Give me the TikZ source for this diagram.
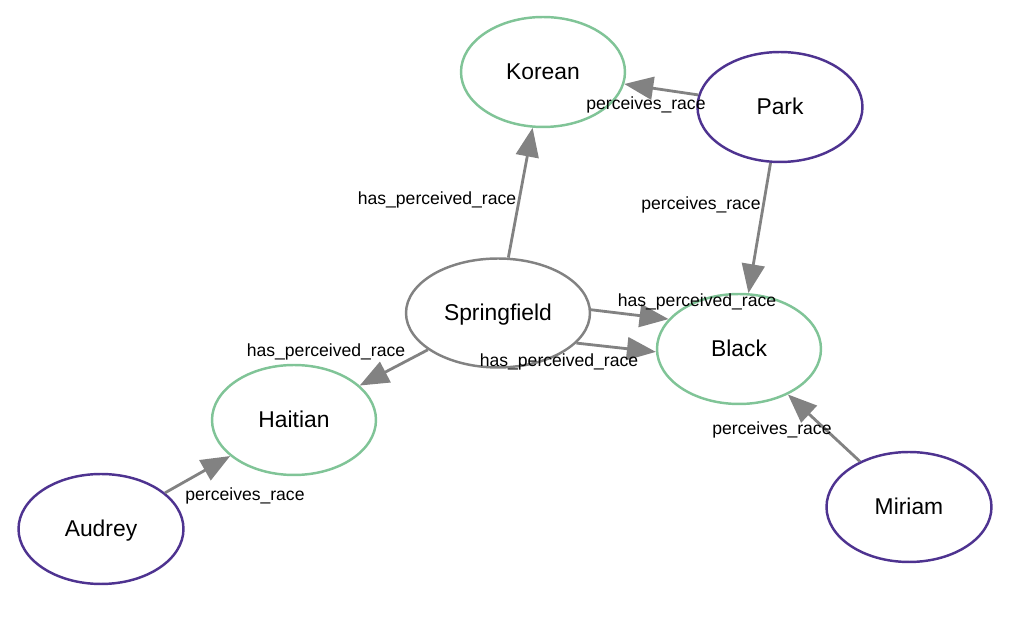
\documentclass[tikz,border=0pt]{standalone}
\usepackage{fontspec}
\setmainfont{Liberation Sans}
\usetikzlibrary{shapes.geometric,arrows.meta}
\definecolor{grn}{HTML}{80C497}
\definecolor{prp}{HTML}{4E3390}
\definecolor{gry}{HTML}{828282}
\begin{document}
\begin{tikzpicture}[x=0.02cm,y=-0.02cm,
  ell/.style={ellipse,draw,line width=1.4pt,fill=white,inner sep=0pt,font=\fontsize{13}{15}\selectfont,text height=9.5pt,text depth=1pt},
  cls/.style={ell,draw=grn,minimum width=3.28cm,minimum height=2.2cm},
  ppl/.style={ell,draw=prp,minimum width=3.3cm,minimum height=2.2cm},
  src/.style={ell,draw=gry,minimum width=3.68cm,minimum height=2.18cm},
  edge/.style={draw=gry,line width=1.6pt,-{Triangle[length=16.5pt,width=13pt]},color=gry},
  lbl/.style={inner sep=0pt,font=\fontsize{10}{12}\selectfont}]
\useasboundingbox (0,0) rectangle (1009,634);
\node[cls] (korean) at (543,72) {Korean};
\node[ppl] (park) at (780,107) {Park};
\node[src] (spring) at (498,313) {Springfield};
\node[cls] (black) at (739,349) {Black};
\node[cls] (haitian) at (294,420) {Haitian};
\node[ppl] (audrey) at (101,529) {Audrey};
\node[ppl] (miriam) at (909,507) {Miriam};
\draw[edge] (spring) -- (korean);
\draw[edge] (park) -- (korean);
\draw[edge] (park) -- (black);
\draw[edge] (spring.2.4) -- (black.157);
\draw[edge] (spring.-21.3) -- (black.182.8);
\draw[edge] (spring) -- (haitian);
\draw[edge] (audrey) -- (haitian);
\draw[edge] (miriam) -- (black);
\node[lbl] (l1) at (437,199.5) {has\_perceived\_race};
\node[lbl] (l2) at (646,104.5) {perceives\_race};
\node[lbl] (l3) at (701,204.5) {perceives\_race};
\node[lbl] (l4) at (697,301.5) {has\_perceived\_race};
\node[lbl] (l5) at (559,361.5) {has\_perceived\_race};
\node[lbl] (l6) at (326,351.5) {has\_perceived\_race};
\node[lbl] (l7) at (245,495.5) {perceives\_race};
\node[lbl] (l8) at (772,429.5) {perceives\_race};
\end{tikzpicture}
\end{document}
